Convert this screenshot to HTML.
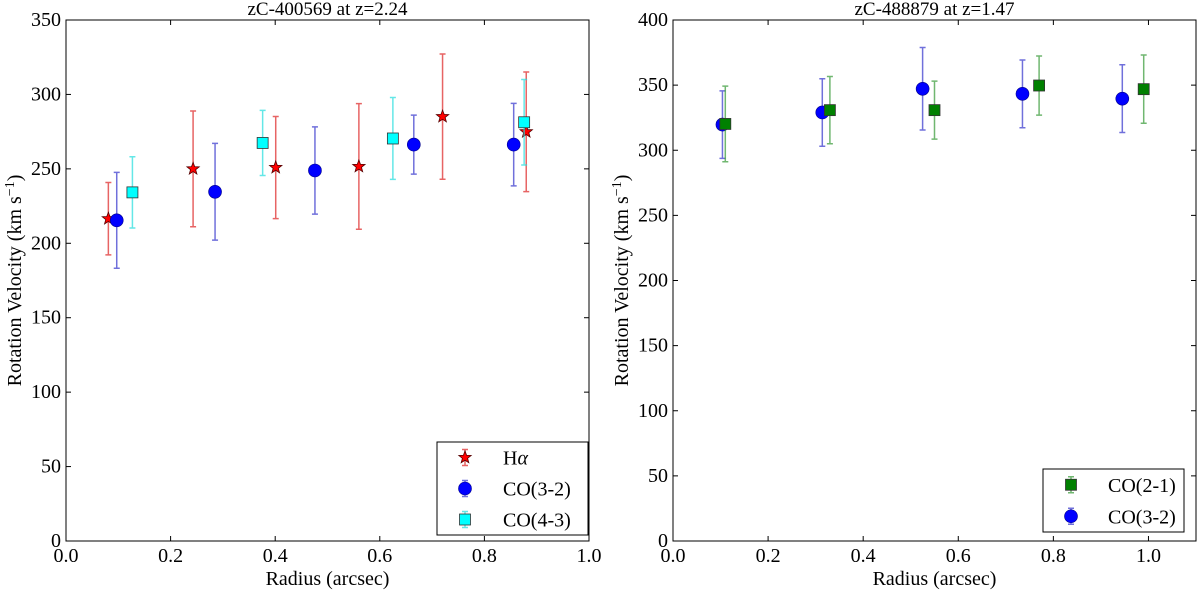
<!DOCTYPE html>
<html><head><meta charset="utf-8"><style>
body{margin:0;background:#fff}
svg{display:block}
svg text{font-family:"Liberation Serif","DejaVu Serif","Times New Roman",serif}
</style></head><body>
<svg id="chart" width="1200" height="594" viewBox="0 0 1200 594" xmlns="http://www.w3.org/2000/svg"></svg>
<script>
// Left panel: zC-400569
const haR=[0.081,0.243,0.401,0.560,0.720,0.880];
const haV=[216.5,250.0,250.9,251.6,285.1,274.9];
const haE=[24.3,38.9,34.3,42.2,42.1,40.2];
const co32aR=[0.097,0.285,0.476,0.665,0.856];
const co32aV=[215.4,234.6,248.9,266.3,266.3];
const co32aE=[32.2,32.5,29.3,19.8,27.7];
const co43R=[0.127,0.376,0.625,0.876];
const co43V=[234.2,267.4,270.4,281.3];
const co43E=[23.9,21.9,27.5,28.7];
const leftXTicks=[0,0.2,0.4,0.6,0.8,1.0];
const leftYTicks=[0,50,100,150,200,250,300,350];
// Right panel: zC-488879
const co21R=[0.11,0.33,0.55,0.77,0.99];
const co21V=[320.2,330.8,330.8,349.7,346.9];
const co21E=[29,25.8,22.3,22.7,26.2];
const co32bR=[0.104,0.314,0.525,0.735,0.945];
const co32bV=[319.7,329,347.2,343.3,339.6];
const co32bE=[25.9,25.9,31.7,26,26];
const rightXTicks=[0,0.2,0.4,0.6,0.8,1.0];
const rightYTicks=[0,50,100,150,200,250,300,350,400];

const NS="http://www.w3.org/2000/svg";
const svg=document.getElementById('chart');
function mk(tag,attrs,parent){const e=document.createElementNS(NS,tag);for(const k in attrs)e.setAttribute(k,attrs[k]);if(tag==='text')e.style.fontFamily='"Liberation Serif","DejaVu Serif",serif';(parent||svg).appendChild(e);return e;}

function panel(name,x0,x1,y0,y1,xmax,ymax,xticks,yticks,title){
  const g=mk('g',{});
  
  
  const sx=v=>x0+(x1-x0)*v/xmax, sy=v=>y1-(y1-y0)*v/ymax;
  const fr=mk('rect',{x:x0,y:y0,width:x1-x0,height:y1-y0,fill:'none',stroke:'#000','stroke-width':1},g);
  
  
  xticks.forEach(t=>{
    mk('line',{x1:sx(t),x2:sx(t),y1:y1,y2:y1-5,stroke:'#000'},g);
    mk('line',{x1:sx(t),x2:sx(t),y1:y0,y2:y0+5,stroke:'#000'},g);
    const tx=mk('text',{x:sx(t),y:y1+21,'text-anchor':'middle','font-size':20},g);
    tx.textContent=t.toFixed(1);
    
    
  });
  yticks.forEach(t=>{
    mk('line',{x1:x0,x2:x0+5,y1:sy(t),y2:sy(t),stroke:'#000'},g);
    mk('line',{x1:x1,x2:x1-5,y1:sy(t),y2:sy(t),stroke:'#000'},g);
    const ty=mk('text',{x:x0-5,y:sy(t)+6,'text-anchor':'end','font-size':20},g);
    ty.textContent=t;
    
    
  });
  const tt=mk('text',{x:(x0+x1)/2,y:y0-5,'text-anchor':'middle','font-size':19},g);
  tt.textContent=title;
  
  
  const xl=mk('text',{x:(x0+x1)/2,y:585,'text-anchor':'middle','font-size':20},g);
  xl.textContent='Radius (arcsec)';
  
  
  const cy=(y0+y1)/2;
  const yl=mk('text',{x:0,y:0,'text-anchor':'middle','font-size':20,transform:`translate(${x0-45},${cy}) rotate(-90)`},g);
  yl.innerHTML='Rotation Velocity (km s<tspan dy="-7" font-size="14">−1</tspan><tspan dy="7">)</tspan>';
  
  
  return {g,sx,sy};
}
function starPath(cx,cy,R){let d='';for(let i=0;i<10;i++){const r=i%2?R*0.42:R;const a=-Math.PI/2+i*Math.PI/5;d+=(i?'L':'M')+(cx+r*Math.cos(a)).toFixed(2)+' '+(cy+r*Math.sin(a)).toFixed(2);}return d+'Z';}
function marker(g,type,cx,cy,fill){
  if(type==='star') return mk('path',{d:starPath(cx,cy,6.5),fill:fill,stroke:'#500','stroke-width':0.8},g);
  if(type==='circle') return mk('circle',{cx:cx,cy:cy,r:6.5,fill:fill,stroke:'#00008b','stroke-width':0.6},g);
  return mk('rect',{x:cx-5.5,y:cy-5.5,width:11,height:11,fill:fill,stroke:'#333','stroke-width':0.8},g);
}
function series(p,name,R,V,E,type,fill,ecol){
  const g=mk('g',{},p.g);
  
  
  R.forEach((r,i)=>{
    const x=p.sx(r),yt=p.sy(V[i]+E[i]),yb=p.sy(V[i]-E[i]);
    const eb=mk('path',{d:`M${x} ${yt}V${yb}M${x-3} ${yt}H${x+3}M${x-3} ${yb}H${x+3}`,stroke:ecol,'stroke-width':1.5,fill:'none','stroke-opacity':0.7},g);
    
    
    const m=marker(g,type,x,p.sy(V[i]),fill);
    
    
  });
}
function legend(p,name,bx,by,bw,bh,items,tx){
  const g=mk('g',{},p.g);
  
  
  mk('rect',{x:bx,y:by,width:bw,height:bh,fill:'#fff',stroke:'#000'},g);
  const step=bh/items.length;
  items.forEach((it,i)=>{
    const cy=by+step*(i+0.5), mx=bx+28;
    const e=mk('g',{},g);
    
    
    mk('path',{d:`M${mx} ${cy-8}V${cy+8}M${mx-3} ${cy-8}H${mx+3}M${mx-3} ${cy+8}H${mx+3}`,stroke:it[3],'stroke-width':1.5,'stroke-opacity':0.7},e);
    marker(e,it[1],mx,cy,it[2]);
    const t=mk('text',{x:bx+tx,y:cy+7,'text-anchor':'start','font-size':20},e);
    t.innerHTML=it[0];
  });
}
const L=panel('left-panel',66,589,20,541,1.0,350,leftXTicks,leftYTicks,'zC-400569 at z=2.24');
series(L,'halpha-series',haR,haV,haE,'star','#ff0000','#dd2222');
series(L,'co32-series',co32aR,co32aV,co32aE,'circle','#0000ff','#3333cc');
series(L,'co43-series',co43R,co43V,co43E,'square','#00ffff','#22dddd');
legend(L,'legend-left',437,442,151,93,[['H<tspan font-style="italic">α</tspan>','star','#ff0000','#dd2222'],['CO(3-2)','circle','#0000ff','#3333cc'],['CO(4-3)','square','#00ffff','#22dddd']],66);
const Rp=panel('right-panel',673,1196,20,541,1.1,400,rightXTicks,rightYTicks,'zC-488879 at z=1.47');
series(Rp,'co32-series',co32bR,co32bV,co32bE,'circle','#0000ff','#3333cc');
series(Rp,'co21-series',co21R,co21V,co21E,'square','#008000','#339933');
legend(Rp,'legend-right',1043,469,141,63,[['CO(2-1)','square','#008000','#339933'],['CO(3-2)','circle','#0000ff','#3333cc']],65);
</script>
</body></html>
